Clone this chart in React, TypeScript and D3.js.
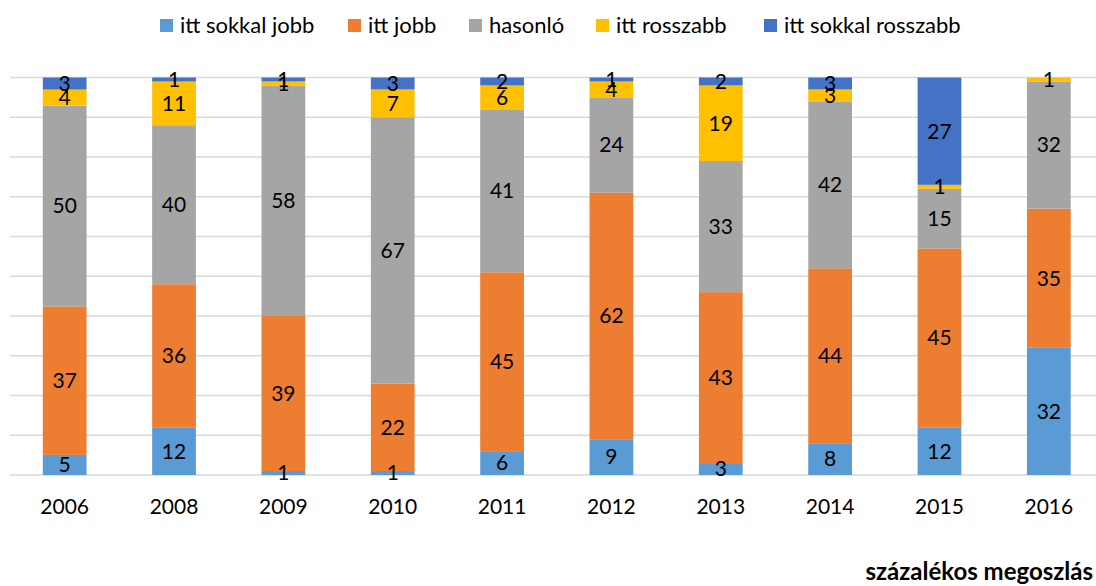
import React from "react";
import * as d3 from "d3";

const years = ["2006", "2008", "2009", "2010", "2011", "2012", "2013", "2014", "2015", "2016"];
const seriesNames = ["itt sokkal jobb", "itt jobb", "hasonló", "itt rosszabb", "itt sokkal rosszabb"];
const seriesColors = ["#5B9BD5", "#ED7D31", "#A5A5A5", "#FFC000", "#4472C4"];
const sokkalJobb = [5, 12, 1, 1, 6, 9, 3, 8, 12, 32];
const jobb = [37, 36, 39, 22, 45, 62, 43, 44, 45, 35];
const hasonlo = [50, 40, 58, 67, 41, 24, 33, 42, 15, 32];
const rosszabb = [4, 11, 1, 7, 6, 4, 19, 3, 1, 1];
const sokkalRosszabb = [3, 1, 1, 3, 2, 1, 2, 3, 27, 0];
const gridTicks = [0, 0.1, 0.2, 0.3, 0.4, 0.5, 0.6, 0.7, 0.8, 0.9, 1];
const footnote = "százalékos megoszlás";

const W = 1096;
const H = 586;
const FONT = "Lato, 'Open Sans', sans-serif";

export default function App() {
  const seriesValues = [sokkalJobb, jobb, hasonlo, rosszabb, sokkalRosszabb];
  const rows = years.map((y, i) => {
    const r: any = { year: y };
    seriesNames.forEach((s, k) => (r[s] = seriesValues[k][i]));
    return r;
  });
  const stack = d3.stack<any>().keys(seriesNames).offset(d3.stackOffsetExpand);
  const layers = stack(rows);

  const x = d3.scaleBand().domain(years).range([10, 1103.5]).paddingInner(0.6).paddingOuter(0.3);
  const y = d3.scaleLinear().domain([0, 1]).range([475, 77.5]);

  const legendX = [160, 348, 469, 596, 764];

  return (
    <svg width={W} height={H} style={{ display: "block", position: "absolute", left: 0, top: 0 }} fontFamily={FONT}>
      <rect width={W} height={H} fill="#fff" />
      {gridTicks.map((t) => (
        <line key={t} x1={10} x2={W} y1={y(t)} y2={y(t)} stroke="#D9D9D9" strokeWidth={1.3} />
      ))}
      {layers.map((layer, k) => (
        <g key={seriesNames[k]}>
          {layer.map((d, i) => (
            <rect
              key={i}
              x={x(years[i])}
              width={x.bandwidth()}
              y={y(d[1])}
              height={Math.max(0, y(d[0]) - y(d[1]))}
              fill={seriesColors[k]}
            />
          ))}
        </g>
      ))}
      {layers.map((layer, k) => (
        <g key={"l" + seriesNames[k]}>
          {layer.map((d, i) => {
            const v = seriesValues[k][i];
            if (!v) return null;
            return (
              <text
                key={i}
                x={(x(years[i]) as number) + x.bandwidth() / 2}
                y={(y(d[0]) + y(d[1])) / 2}
                dy="0.35em"
                textAnchor="middle"
                fontSize={21}
                fill="#000"
              >
                {v}
              </text>
            );
          })}
        </g>
      ))}
      {years.map((yr) => (
        <text
          key={yr}
          x={(x(yr) as number) + x.bandwidth() / 2}
          y={507}
          dy="0.35em"
          textAnchor="middle"
          fontSize={21}
          fill="#000"
        >
          {yr}
        </text>
      ))}
      {seriesNames.map((s, k) => (
        <g key={"lg" + s} transform={`translate(${legendX[k]},19)`}>
          <rect width={13} height={13} fill={seriesColors[k]} />
          <text x={20} y={6.5} dy="0.35em" fontSize={22} fill="#000">
            {s}
          </text>
        </g>
      ))}
      <text x={1093} y={572} dy="0.35em" textAnchor="end" fontSize={24} fontWeight="bold" fill="#000">
        {footnote}
      </text>
    </svg>
  );
}
